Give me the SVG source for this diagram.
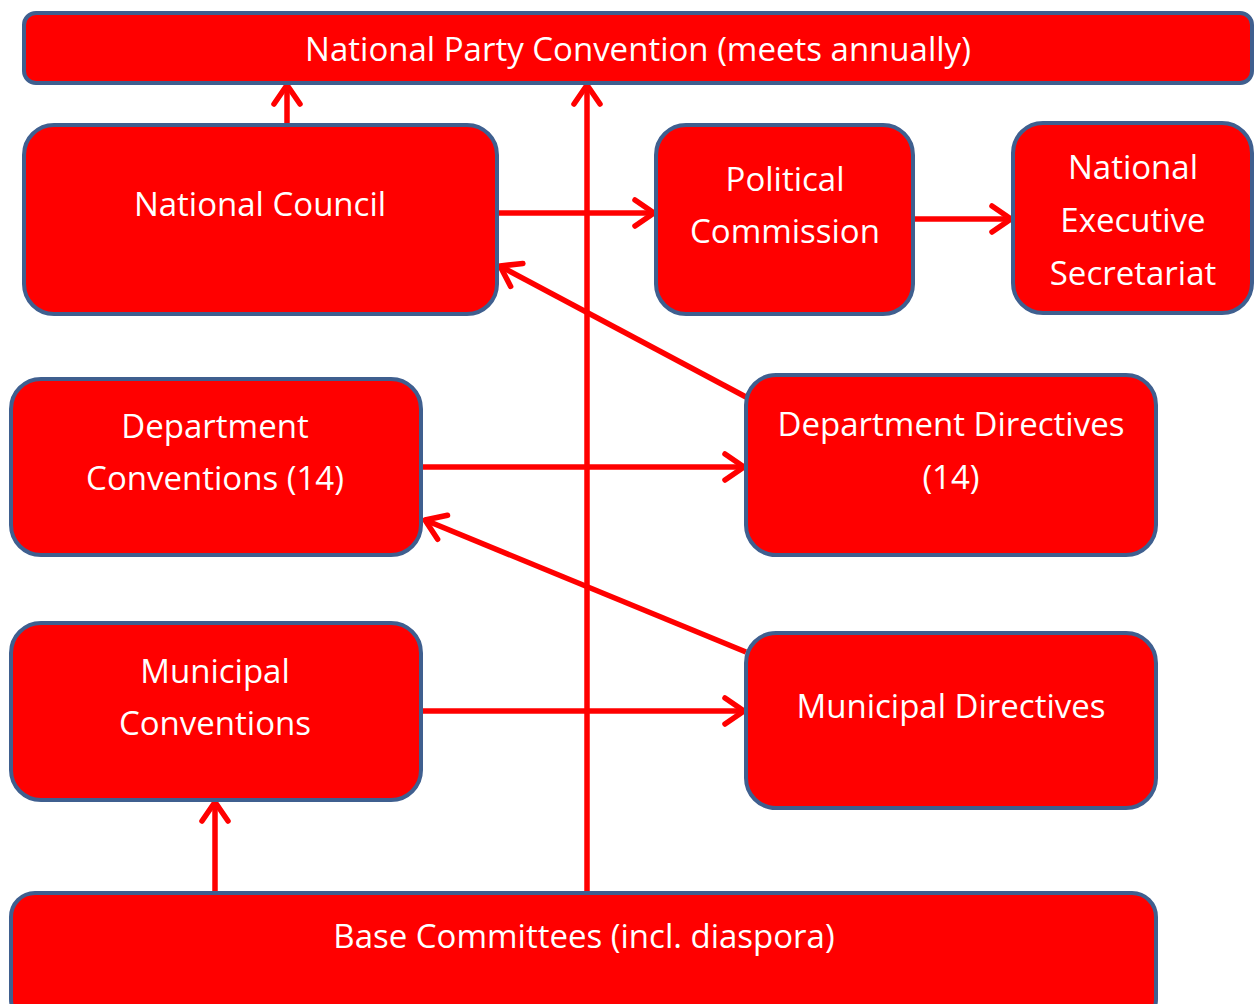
<svg xmlns="http://www.w3.org/2000/svg" width="1254" height="1004" viewBox="0 0 1254 1004">
<style>
.box{fill:#FF0000;stroke:#3F5F8F;stroke-width:4}
.t{font-family:"Open Sans","Noto Sans","Liberation Sans",sans-serif;font-size:33px;fill:#FFFFFF;text-anchor:middle;dominant-baseline:central}
.c{stroke:#FF0000;stroke-width:5.5;fill:none;marker-end:url(#ah)}
</style>
<defs>
<marker id="ah" markerUnits="userSpaceOnUse" viewBox="-26 -17 30 34" refX="0" refY="0" markerWidth="30" markerHeight="34" orient="auto">
<path d="M-19,-13 L0,0 L-19,13" fill="none" stroke="#FF0000" stroke-width="5.5" stroke-linecap="round" stroke-linejoin="round"/>
</marker>
</defs>
<rect width="1254" height="1004" fill="#FFFFFF"/>
<g id="connectors">
<line class="c" x1="287" y1="125" x2="287" y2="85"/>
<line class="c" x1="587" y1="893" x2="587" y2="85"/>
<line class="c" x1="497" y1="213" x2="654" y2="213"/>
<line class="c" x1="913" y1="219" x2="1011" y2="219"/>
<line class="c" x1="746" y1="397" x2="500" y2="266"/>
<line class="c" x1="421" y1="467" x2="744" y2="467"/>
<line class="c" x1="746" y1="652" x2="425" y2="520"/>
<line class="c" x1="421" y1="711" x2="744" y2="711"/>
<line class="c" x1="215" y1="893" x2="215" y2="802"/>
</g>
<g id="npc"><rect class="box" x="24" y="13" width="1228" height="70" rx="12"/><text class="t" x="638" y="48">National Party Convention (meets annually)</text></g>
<g id="nc"><rect class="box" x="24" y="125" width="473" height="189" rx="30"/><text class="t" x="260" y="203">National Council</text></g>
<g id="pc"><rect class="box" x="656" y="125" width="257" height="189" rx="30"/><text class="t" x="785" y="178">Political</text><text class="t" x="785" y="230">Commission</text></g>
<g id="nes"><rect class="box" x="1013" y="123" width="239" height="190" rx="30"/><text class="t" x="1133" y="166">National</text><text class="t" x="1133" y="219">Executive</text><text class="t" x="1133" y="272">Secretariat</text></g>
<g id="dc"><rect class="box" x="11" y="379" width="410" height="176" rx="30"/><text class="t" x="215" y="425">Department</text><text class="t" x="215" y="477">Conventions (14)</text></g>
<g id="dd"><rect class="box" x="746" y="375" width="410" height="180" rx="30"/><text class="t" x="951" y="423">Department Directives</text><text class="t" x="951" y="476">(14)</text></g>
<g id="mc"><rect class="box" x="11" y="623" width="410" height="177" rx="30"/><text class="t" x="215" y="670">Municipal</text><text class="t" x="215" y="722">Conventions</text></g>
<g id="md"><rect class="box" x="746" y="633" width="410" height="175" rx="30"/><text class="t" x="951" y="705">Municipal Directives</text></g>
<g id="bc"><rect class="box" x="11" y="893" width="1145" height="130" rx="24"/><text class="t" x="584" y="935">Base Committees (incl. diaspora)</text></g>
</svg>
